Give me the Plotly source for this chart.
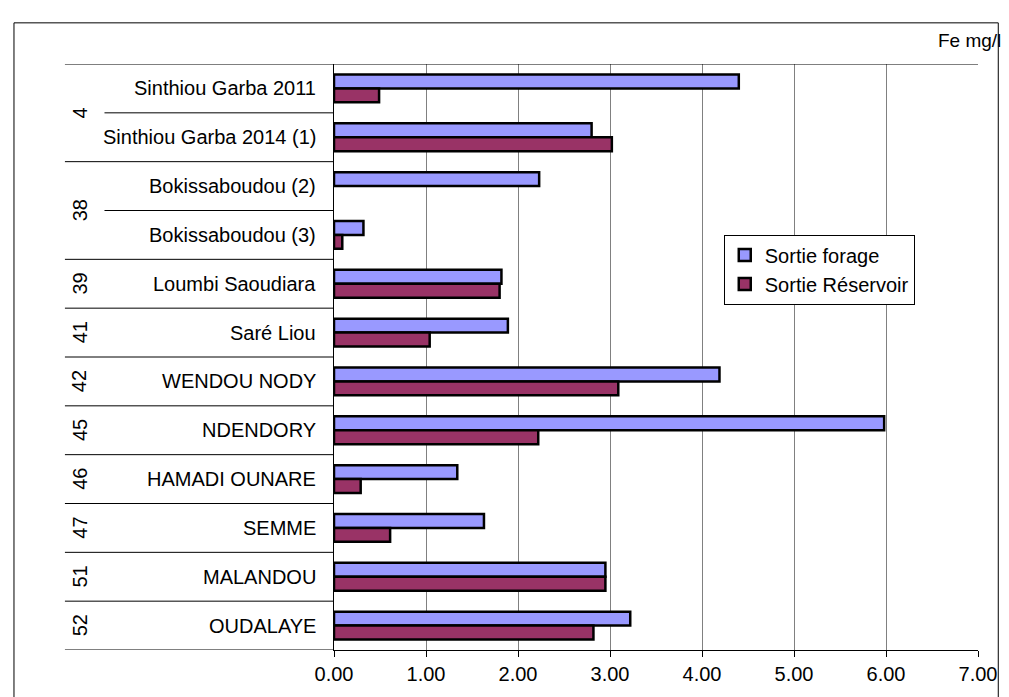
import plotly.graph_objects as go

# ---- data ----
groups = ["4", "4", "38", "38", "39", "41", "42", "45", "46", "47", "51", "52"]
sites = ["Sinthiou Garba 2011", "Sinthiou Garba 2014 (1)", "Bokissaboudou (2)",
         "Bokissaboudou (3)", "Loumbi Saoudiara", "Saré Liou", "WENDOU NODY",
         "NDENDORY", "HAMADI OUNARE", "SEMME", "MALANDOU", "OUDALAYE"]
sortie_forage = [4.40, 2.80, 2.23, 0.32, 1.82, 1.89, 4.19, 5.98, 1.34, 1.63, 2.95, 3.22]
sortie_reservoir = [0.49, 3.02, None, 0.09, 1.80, 1.04, 3.09, 2.22, 0.29, 0.61, 2.95, 2.82]
x_ticks = [0, 1, 2, 3, 4, 5, 6, 7]
unit_label = "Fe mg/l"

FONT = "Liberation Sans, Arial, sans-serif"
W, H = 1009, 697
L, R, T, B = 334, 24, 64, 42
PW, PH = W - L - R, H - T - B


def px_x(p):
    return (p - L) / PW


def px_y(p):
    return (H - B - p) / PH


fig = go.Figure()
fig.add_trace(go.Bar(
    y=sites, x=sortie_forage, orientation="h", name="Sortie forage",
    marker=dict(color="#9999FF", line=dict(color="black", width=2.5)),
))
fig.add_trace(go.Bar(
    y=sites, x=sortie_reservoir, orientation="h", name="Sortie Réservoir",
    marker=dict(color="#993366", line=dict(color="black", width=2.5)),
))

annotations = []
# site labels
for s in sites:
    annotations.append(dict(x=0, xref="paper", y=s, yref="y", text=s,
                            showarrow=False, xanchor="right", yanchor="middle",
                            xshift=-16, font=dict(family=FONT, size=20, color="black")))
# group labels (rotated), centred over their span of categories
i = 0
shapes = []
boundaries_group = [-0.5]
boundaries_inner = []
while i < len(groups):
    j = i
    while j + 1 < len(groups) and groups[j + 1] == groups[i]:
        j += 1
    annotations.append(dict(x=px_x(77), xref="paper", y=(i + j) / 2, yref="y",
                            text=groups[i], showarrow=False, textangle=-90,
                            xanchor="center", yanchor="middle",
                            font=dict(family=FONT, size=20, color="black")))
    for k in range(i, j):
        boundaries_inner.append(k + 0.5)
    boundaries_group.append(j + 0.5)
    i = j + 1

for b in boundaries_group:
    x1 = 1 if b == -0.5 else 0
    shapes.append(dict(type="line", xref="paper", yref="y", x0=px_x(62), x1=x1,
                       y0=b, y1=b, line=dict(color="black", width=1)))
for b in boundaries_inner:
    shapes.append(dict(type="line", xref="paper", yref="y", x0=px_x(102), x1=0,
                       y0=b, y1=b, line=dict(color="black", width=1)))

# outer chart border
shapes.append(dict(type="rect", xref="paper", yref="paper",
                   x0=px_x(10.5), x1=px_x(1005.5), y0=px_y(710), y1=px_y(22.5),
                   line=dict(color="black", width=1), layer="below"))

annotations.append(dict(x=px_x(1010), xref="paper", y=px_y(40), yref="paper",
                        text=unit_label, showarrow=False, xanchor="right",
                        yanchor="middle", font=dict(family=FONT, size=19, color="black")))

fig.update_layout(
    width=W, height=H,
    margin=dict(l=L, r=R, t=T, b=B, pad=0),
    paper_bgcolor="white", plot_bgcolor="white",
    barmode="group", bargap=0.43, bargroupgap=0,
    font=dict(family=FONT, size=20, color="black"),
    showlegend=True,
    legend=dict(x=px_x(728), y=px_y(236), xanchor="left", yanchor="top",
                bgcolor="white", bordercolor="black", borderwidth=1,
                font=dict(family=FONT, size=20, color="black"),
                itemwidth=30, tracegroupgap=0),
    annotations=annotations,
    shapes=shapes,
)
fig.update_xaxes(range=[0, 7], tickvals=x_ticks, tickformat=".2f",
                 showgrid=True, gridcolor="#808080", gridwidth=1,
                 showline=True, linecolor="black", linewidth=1,
                 ticks="outside", ticklen=6, tickcolor="black",
                 tickfont=dict(family=FONT, size=20, color="black"),
                 zeroline=False, fixedrange=True)
fig.update_yaxes(categoryorder="array", categoryarray=sites,
                 range=[len(sites) - 0.5, -0.5], showticklabels=False,
                 showgrid=False, showline=True, linecolor="black", linewidth=1,
                 ticks="", zeroline=False, fixedrange=True)

fig.write_html("out.html")
